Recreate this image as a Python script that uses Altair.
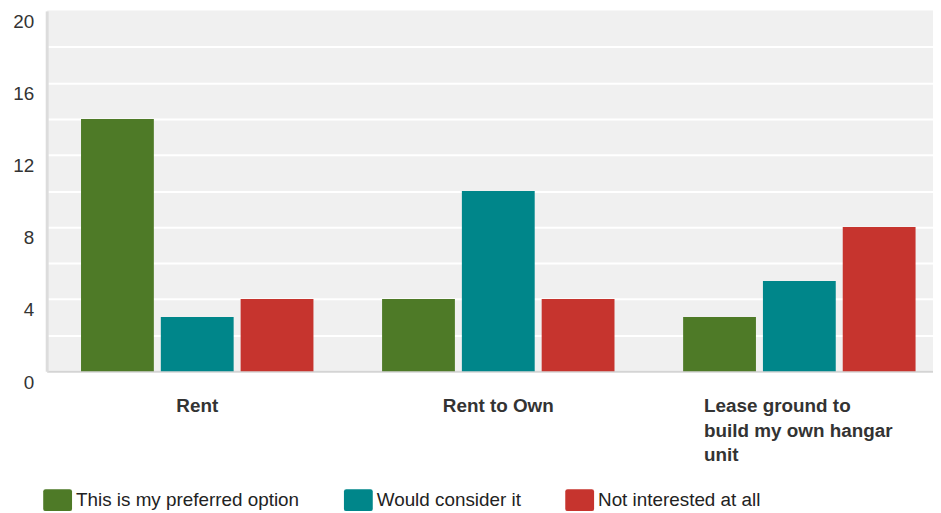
import altair as alt
import pandas as pd

categories = ["Rent", "Rent to Own", "Lease ground to build my own hangar unit"]
series = ["This is my preferred option", "Would consider it", "Not interested at all"]
preferred = [14, 4, 3]
consider = [3, 10, 5]
not_interested = [4, 4, 8]
colors = ["#4E7A27", "#00868A", "#C6342E"]
y_ticks = list(range(0, 21, 2))

rows = []
for vals, s in zip([preferred, consider, not_interested], series):
    for c, v in zip(categories, vals):
        rows.append({"category": c, "series": s, "value": v})
df = pd.DataFrame(rows)

long_label = categories[2]
FONT = "Liberation Sans"
rounded = ("M-1.1,-1H1.1Q1.32,-1 1.32,-0.8V0.8Q1.32,1 1.1,1H-1.1"
           "Q-1.32,1 -1.32,0.8V-0.8Q-1.32,-1 -1.1,-1Z")

chart = alt.Chart(df).mark_bar().encode(
    x=alt.X(
        "category:N",
        sort=categories,
        scale=alt.Scale(paddingInner=0, paddingOuter=0),
        axis=alt.Axis(
            title=None,
            labelAngle=0,
            ticks=False,
            grid=False,
            domainColor="#D4D4D4",
            domainWidth=2,
            labelFont=FONT,
            labelFontSize=19,
            labelFontWeight="bold",
            labelColor="#333333",
            labelPadding=26,
            labelLineHeight=24.5,
            labelLimit=400,
            labelExpr=f"datum.value == '{long_label}' ? ['Lease ground to', 'build my own hangar', 'unit'] : datum.label",
            labelAlign={"condition": {"test": f"datum.value == '{long_label}'", "value": "left"}, "value": "center"},
            labelOffset={"condition": {"test": f"datum.value == '{long_label}'", "value": -96}, "value": 0},
        ),
    ),
    xOffset=alt.XOffset(
        "series:N",
        sort=series,
        scale=alt.Scale(paddingInner=0.0875, paddingOuter=0.43),
    ),
    y=alt.Y(
        "value:Q",
        scale=alt.Scale(domain=[0, 20], nice=False),
        axis=alt.Axis(
            title=None,
            values=y_ticks,
            labelExpr="datum.value % 4 == 0 ? datum.label : ''",
            labelOverlap=False,
            ticks=False,
            grid=True,
            gridColor={"condition": {"test": "datum.value == 20", "value": "#F0F0F0"}, "value": "#FFFFFF"},
            gridWidth=2,
            domainColor="#DCDCDC",
            domainWidth=3,
            labelFont=FONT,
            labelFontSize=19,
            labelColor="#333333",
            labelPadding=13,
            labelBaseline="top",
            labelOffset=2,
        ),
    ),
    color=alt.Color(
        "series:N",
        sort=series,
        scale=alt.Scale(domain=series, range=colors),
        legend=alt.Legend(
            title=None,
            orient="none",
            legendX=0,
            legendY=482,
            direction="horizontal",
            columns=3,
            padding=0,
            symbolType=rounded,
            symbolSize=484,
            symbolStrokeWidth=0,
            symbolOpacity=1,
            labelFont=FONT,
            labelFontSize=19,
            labelColor="#222222",
            labelOffset=7.5,
            columnPadding=44,
            labelLimit=400,
        ),
    ),
).properties(
    width=910,
    height=363,
    autosize=alt.AutoSizeParams(type="none"),
    padding={"left": 39, "top": 1, "right": -17, "bottom": 140},
).configure_view(
    fill="#F0F0F0",
    stroke=None,
)

chart.save("out.html", embed_options={"renderer": "svg", "actions": False})
